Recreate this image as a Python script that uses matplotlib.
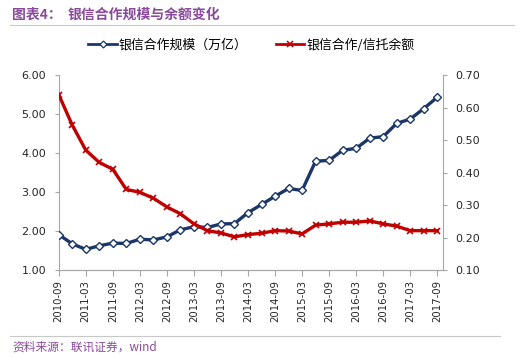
import matplotlib
matplotlib.use("Agg")
import matplotlib.pyplot as plt
from matplotlib.lines import Line2D

plt.rcParams['font.family'] = ['DejaVu Sans', 'Noto Sans CJK SC']

quarters = ["2010-09", "2010-12", "2011-03", "2011-06", "2011-09", "2011-12",
            "2012-03", "2012-06", "2012-09", "2012-12", "2013-03", "2013-06",
            "2013-09", "2013-12", "2014-03", "2014-06", "2014-09", "2014-12",
            "2015-03", "2015-06", "2015-09", "2015-12", "2016-03", "2016-06",
            "2016-09", "2016-12", "2017-03", "2017-06", "2017-09"]

scale = [1.91, 1.67, 1.53, 1.62, 1.69, 1.68, 1.79, 1.77, 1.85, 2.03, 2.11,
         2.09, 2.18, 2.19, 2.47, 2.68, 2.89, 3.09, 3.04, 3.79, 3.81, 4.07,
         4.12, 4.38, 4.42, 4.76, 4.87, 5.14, 5.43]

ratio = [0.640, 0.546, 0.469, 0.431, 0.410, 0.348, 0.339, 0.321, 0.294,
         0.273, 0.242, 0.221, 0.214, 0.202, 0.209, 0.213, 0.221, 0.220,
         0.211, 0.238, 0.242, 0.247, 0.247, 0.251, 0.242, 0.235, 0.221,
         0.221, 0.221]

label_blue = "银信合作规模（万亿）"
label_red = "银信合作/信托余额"
title_a = "图表4："
title_b = "银信合作规模与余额变化"
source = "资料来源：联讯证券，wind"

blue = "#1B3668"
red = "#C00000"
purple = "#8A4A9C"
spine_c = "#A6A6A6"
cjk = ['Noto Sans CJK SC', 'DejaVu Sans']

fig = plt.figure(figsize=(5.24, 3.58), dpi=100)
ax = fig.add_axes([58.7/524, 1-270/358, (442.7-58.7)/524, (270-75)/358])
ax2 = ax.twinx()

x = list(range(len(quarters)))
ax.plot(x, scale, color=blue, lw=2.4, marker='D', ms=4.2,
        mfc='white', mec=blue, mew=1.0, zorder=3)
ax2.plot(x, ratio, color=red, lw=2.4, marker='x', ms=5,
         mec=red, mew=1.2, zorder=3)

ax.set_xlim(0, 28.4)
ax.set_ylim(1, 6)
ax2.set_ylim(0.1, 0.7)
ax.set_yticks([1, 2, 3, 4, 5, 6])
ax.set_yticklabels([f"{v:.2f}" for v in [1, 2, 3, 4, 5, 6]])
rt = [0.1, 0.2, 0.3, 0.4, 0.5, 0.6, 0.7]
ax2.set_yticks(rt)
ax2.set_yticklabels([f"{v:.2f}" for v in rt])
ax.set_xticks(x[::2])
ax.set_xticklabels(quarters[::2], rotation=90)

for a in (ax, ax2):
    for s in a.spines.values():
        s.set_color(spine_c)
    a.spines['top'].set_visible(False)
    a.tick_params(colors=spine_c, labelcolor='#262626', length=3, width=0.8)
ax.spines['right'].set_visible(False)
ax2.spines['left'].set_visible(False)
ax.tick_params(axis='y', labelsize=8, pad=6)
ax2.tick_params(axis='y', labelsize=8, pad=6)
ax.tick_params(axis='x', labelsize=7.3, pad=3, length=4)

handles = [Line2D([], [], color=blue, lw=2.0, marker='D', ms=3.5, mfc='white', mec=blue, mew=0.9),
           Line2D([], [], color=red, lw=2.0, marker='x', ms=4, mec=red, mew=1.1)]
fig.legend(handles, [label_blue, label_red], loc='center', bbox_to_anchor=(251.5/524, 1-45/358),
           ncol=2, frameon=False, handlelength=2.2, handletextpad=0.15,
           columnspacing=2.2, prop={'family': cjk, 'size': 9.3})

fig.text(12/524, 1-15/358, title_a, color=purple, fontsize=10, fontweight='bold',
         va='center', ha='left', family=cjk)
fig.text(68/524, 1-15/358, title_b, color=purple, fontsize=10, fontweight='bold',
         va='center', ha='left', family=cjk)
fig.add_artist(Line2D([10/524, 514/524], [1-25/358, 1-25/358], color='#C8C8C8', lw=0.8))
fig.add_artist(Line2D([10/524, 500/524], [1-336/358, 1-336/358], color='#C8C8C8', lw=0.8))
fig.text(12/524, 1-347/358, source, color=purple, fontsize=8.5, style='italic',
         va='center', ha='left', family=cjk)

fig.savefig("out.png", dpi=100)
